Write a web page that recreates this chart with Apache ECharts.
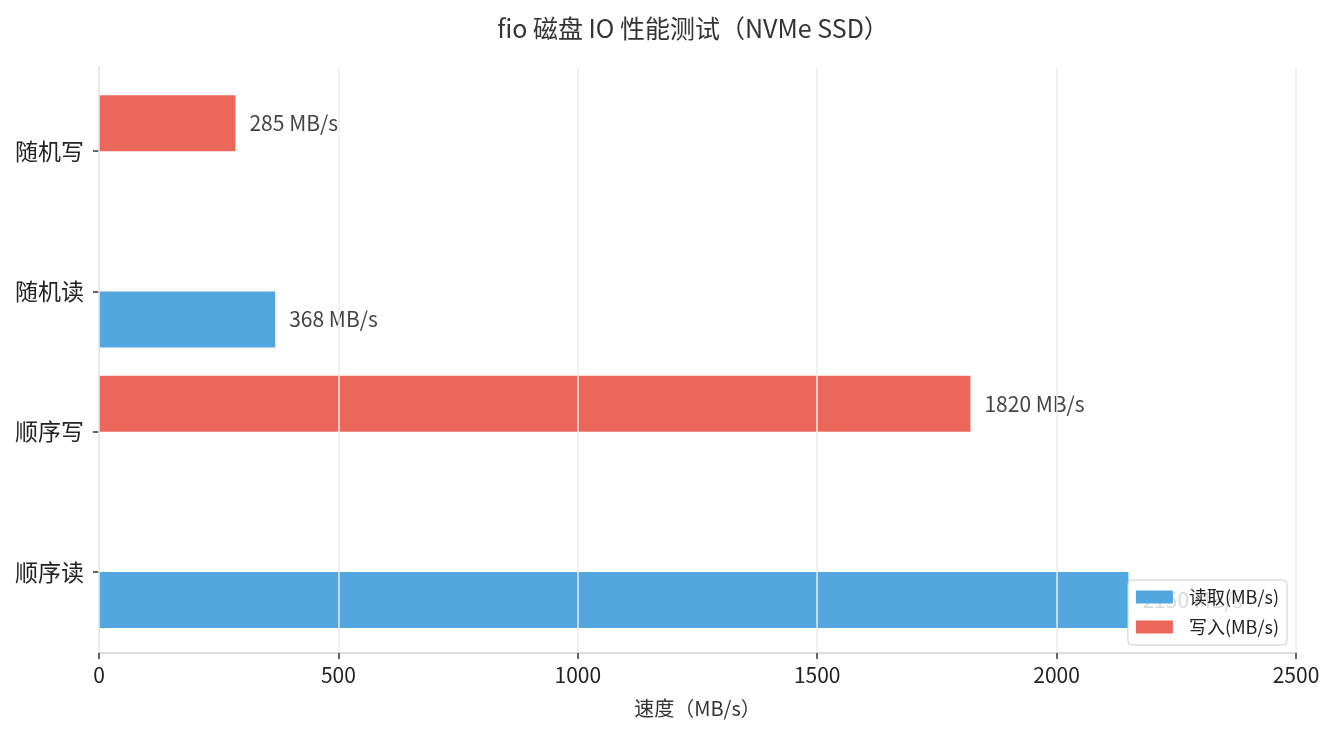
<!DOCTYPE html>
<html lang="zh">
<head>
<meta charset="utf-8">
<title>fio 磁盘 IO 性能测试</title>
<script src="https://cdn.jsdelivr.net/npm/echarts@6/dist/echarts.min.js"></script>
<style>
  html, body { margin: 0; padding: 0; background: #fff; }
  #main { width: 1335px; height: 735px; }
</style>
</head>
<body>
<div id="main"></div>
<script>
// 测试项（自下而上）
var tests = ['顺序读', '顺序写', '随机读', '随机写'];
// 读取速度，MB/s（无数据用 null）
var readSpeed = [2150, null, 368, null];
// 写入速度，MB/s
var writeSpeed = [null, 1820, null, 285];

var FONT = '"Noto Sans CJK SC", "Noto Sans", sans-serif';
var chart = echarts.init(document.getElementById('main'));

var valueLabel = {
    show: true,
    position: 'right',
    distance: 14,
    formatter: '{c} MB/s',
    fontSize: 21,
    fontFamily: FONT,
    color: '#444'
};

var option = {
    animation: false,
    textStyle: { fontFamily: FONT },
    title: {
        text: 'fio 磁盘 IO 性能测试（NVMe SSD）',
        left: 688,
        textAlign: 'center',
        top: 11,
        textStyle: { fontSize: 25, fontWeight: 'normal', color: '#333', fontFamily: FONT }
    },
    legend: {
        data: ['读取(MB/s)', '写入(MB/s)'],
        orient: 'vertical',
        right: 48,
        bottom: 90,
        itemWidth: 37,
        itemHeight: 13,
        itemGap: 10,
        padding: [7, 8, 8, 8],
        icon: 'rect',
        backgroundColor: 'rgba(255,255,255,0.8)',
        borderColor: '#cccccc',
        borderWidth: 1,
        borderRadius: 4,
        textStyle: { fontSize: 18, color: '#222', lineHeight: 20, padding: [0, 0, 0, 11], fontFamily: FONT }
    },
    grid: [
        // 外框 / 网格
        { left: 99, right: 39, top: 68, bottom: 82 },
        // 条形所在区域
        { left: 99, right: 39, top: 81, bottom: 93 }
    ],
    xAxis: [{
        gridIndex: 0,
        type: 'value',
        min: 0,
        max: 2500,
        interval: 500,
        z: 5,
        name: '速度（MB/s）',
        nameLocation: 'middle',
        nameGap: 45,
        nameTextStyle: { fontSize: 20, color: '#333', fontFamily: FONT },
        axisLine: { show: true, lineStyle: { color: '#dddddd', width: 2 } },
        axisTick: { show: true, length: 6, lineStyle: { color: '#333', width: 1.5 } },
        axisLabel: {
            fontSize: 21, color: '#222', margin: 12, fontFamily: FONT,
            formatter: function (v) { return String(v); }
        },
        splitLine: { show: true, lineStyle: { color: '#ececec', width: 1.5 } }
    }, {
        gridIndex: 1,
        type: 'value',
        min: 0,
        max: 2500,
        show: false,
        splitLine: { show: false }
    }],
    yAxis: [{
        gridIndex: 0,
        type: 'value',
        min: 0,
        max: 1,
        axisLine: { show: true, lineStyle: { color: '#dddddd', width: 2 } },
        axisTick: { show: false },
        axisLabel: { show: false },
        splitLine: { show: false }
    }, {
        gridIndex: 1,
        type: 'category',
        data: tests,
        axisLine: { show: false },
        axisTick: { show: true, alignWithLabel: true, length: 6, lineStyle: { color: '#333', width: 1.5 } },
        axisLabel: { fontSize: 23, color: '#222', margin: 15, fontFamily: FONT },
        splitLine: { show: false }
    }],
    series: [{
        name: '写入(MB/s)',
        type: 'bar',
        xAxisIndex: 1,
        yAxisIndex: 1,
        data: writeSpeed,
        barWidth: 56,
        barGap: '0%',
        itemStyle: { color: '#eb6759' },
        label: valueLabel
    }, {
        name: '读取(MB/s)',
        type: 'bar',
        xAxisIndex: 1,
        yAxisIndex: 1,
        data: readSpeed,
        barWidth: 56,
        barGap: '0%',
        itemStyle: { color: '#52a7e0' },
        label: valueLabel
    }]
};
chart.setOption(option);
</script>
</body>
</html>
